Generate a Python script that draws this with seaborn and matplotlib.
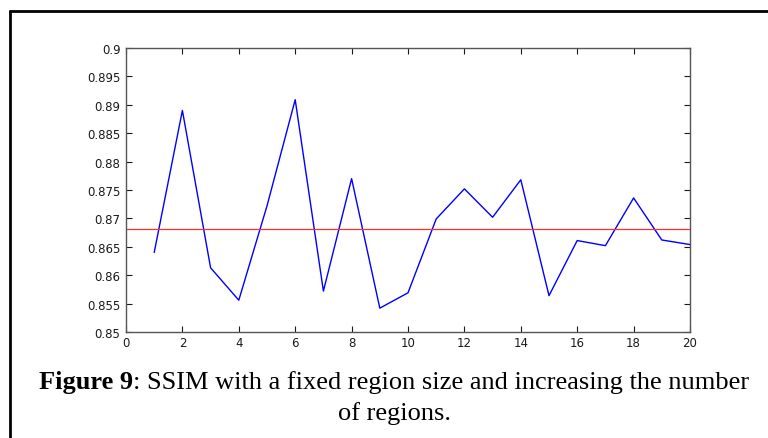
import matplotlib
matplotlib.use("Agg")
import matplotlib.pyplot as plt
import seaborn as sns
import pandas as pd
from matplotlib.lines import Line2D

regions = list(range(1, 21))
ssim = [0.8640, 0.8890, 0.8613, 0.8556, 0.8722, 0.8909, 0.8572, 0.8770, 0.8542, 0.8569,
        0.8699, 0.8752, 0.8702, 0.8768, 0.8564, 0.8661, 0.8652, 0.8736, 0.8662, 0.8654]
mean_ssim = 0.8682
xticks = [0, 2, 4, 6, 8, 10, 12, 14, 16, 18, 20]
yticks = [0.85, 0.855, 0.86, 0.865, 0.87, 0.875, 0.88, 0.885, 0.89, 0.895, 0.9]
ytick_labels = ["0.85", "0.855", "0.86", "0.865", "0.87", "0.875", "0.88", "0.885", "0.89", "0.895", "0.9"]
caption_bold = "Figure 9"
caption_rest = ": SSIM with a fixed region size and increasing the number"
caption_line2 = "of regions."

sns.set_style("ticks")
plt.rcParams['font.family'] = ['DejaVu Sans']

W, H = 768, 439
fig = plt.figure(figsize=(W / 100, H / 100), dpi=100)
ax = fig.add_axes([126 / W, 1 - 333 / H, (690 - 126) / W, (333 - 49) / H])

df = pd.DataFrame({"regions": regions, "ssim": ssim})
sns.lineplot(data=df, x="regions", y="ssim", ax=ax, color="#0000ff", linewidth=1.0)
ax.axhline(mean_ssim, color="#ff3030", linewidth=0.9)

ax.set_xlim(0, 20)
ax.set_ylim(0.85, 0.9)
ax.set_xticks(xticks)
ax.set_xticklabels([str(t) for t in xticks])
ax.set_yticks(yticks)
ax.set_yticklabels(ytick_labels)
ax.set_xlabel("")
ax.set_ylabel("")
ax.tick_params(direction="in", top=True, right=True, length=4, width=0.8,
               labelsize=8.5, colors="#1a1a1a", pad=4)
ax.tick_params(axis="x", pad=3)
for s in ax.spines.values():
    s.set_color("#555555")
    s.set_linewidth(1.0)

# outer frame (top and left edges)
fig.add_artist(Line2D([9.5 / W, 1.0], [1 - 12 / H, 1 - 12 / H], color="black",
                      linewidth=2.0, transform=fig.transFigure))
fig.add_artist(Line2D([9.5 / W, 9.5 / W], [0, 1 - 12 / H], color="black",
                      linewidth=2.0, transform=fig.transFigure))

# caption
serif = ["Liberation Serif", "DejaVu Serif"]
fs = 19
cx = 394 / W
y1 = 1 - 383 / H
y2 = 1 - 414 / H
fig.canvas.draw()
r = fig.canvas.get_renderer()
t1 = fig.text(0, y1, caption_bold, fontsize=fs, fontweight="bold", family=serif,
              va="center", ha="left", color="black")
t2 = fig.text(0, y1, caption_rest, fontsize=fs, family=serif, va="center", ha="left",
              color="black")
w1 = t1.get_window_extent(renderer=r).width / W
w2 = t2.get_window_extent(renderer=r).width / W
x0 = cx - (w1 + w2) / 2
t1.set_x(x0)
t2.set_x(x0 + w1)
fig.text(cx, y2, caption_line2, fontsize=fs, family=serif, va="center", ha="center",
         color="black")

fig.savefig("out.png", dpi=100)
